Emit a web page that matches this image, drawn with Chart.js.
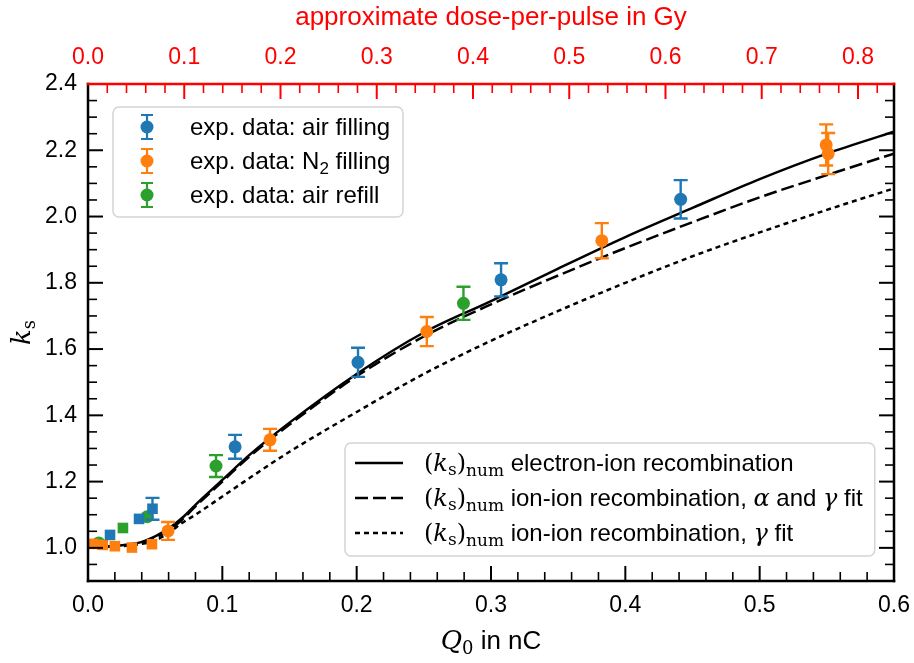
<!DOCTYPE html>
<html>
  <head>
    <meta charset="utf-8"/>
    <style type="text/css">
      body {
        margin: 0px;
        padding: 0px;
        background: #ffffff;
      }
      #container {
        width: 914px;
        height: 663px;
      }
    </style>
  </head>
  <body>
    <div id="container"><canvas id="chart" width="914" height="663"></canvas></div>
  </body>
  <script src="https://cdn.jsdelivr.net/npm/chart.js@4.4.1/dist/chart.umd.min.js"></script>
  <script>
    // measured points (Q0 in nC, k_s, error)
    var airQ   = [0.0164, 0.038, 0.048, 0.1095, 0.201, 0.3075, 0.4412];
    var airK   = [1.039, 1.0875, 1.118, 1.305, 1.560, 1.809, 2.052];
    var airErr = [0, 0, 0.033, 0.036, 0.044, 0.050, 0.058];

    var n2Q   = [0.0037, 0.011, 0.020, 0.0327, 0.0476, 0.0596, 0.1355, 0.2522, 0.3825, 0.5495, 0.551];
    var n2K   = [1.012, 1.009, 1.005, 1.001, 1.011, 1.051, 1.326, 1.653, 1.927, 2.216, 2.190];
    var n2Err = [0, 0, 0, 0, 0, 0.027, 0.033, 0.044, 0.053, 0.062, 0.062];

    var refillQ   = [0.008, 0.026, 0.044, 0.0953, 0.2795];
    var refillK   = [1.015, 1.060, 1.094, 1.247, 1.738];
    var refillErr = [0, 0, 0, 0.033, 0.050];

    // numerical curves
    var curveQ = [0, 0.01, 0.02, 0.03, 0.04, 0.05, 0.06, 0.07, 0.08, 0.10, 0.12, 0.15, 0.20, 0.25, 0.30, 0.35, 0.40, 0.45, 0.50, 0.55, 0.60];
    var electronIon      = [1.005, 1.005, 1.006, 1.010, 1.018, 1.035, 1.058, 1.090, 1.130, 1.205, 1.280, 1.378, 1.525, 1.650, 1.745, 1.843, 1.938, 2.026, 2.113, 2.190, 2.256];
    var ionIonAlphaGamma = [1.003, 1.003, 1.004, 1.008, 1.015, 1.030, 1.052, 1.085, 1.125, 1.200, 1.275, 1.372, 1.518, 1.638, 1.735, 1.822, 1.905, 1.983, 2.058, 2.125, 2.190];
    var ionIonGamma      = [1.003, 1.003, 1.004, 1.007, 1.012, 1.022, 1.045, 1.075, 1.100, 1.155, 1.210, 1.290, 1.410, 1.525, 1.625, 1.715, 1.800, 1.880, 1.952, 2.020, 2.085];

    // axes
    var qTicks    = [0.0, 0.1, 0.2, 0.3, 0.4, 0.5, 0.6];
    var kTicks    = [1.0, 1.2, 1.4, 1.6, 1.8, 2.0, 2.2, 2.4];
    var doseTicks = [0.0, 0.1, 0.2, 0.3, 0.4, 0.5, 0.6, 0.7, 0.8];
    var gyPerNc = 1.3957;

    var SANS = '"Liberation Sans", Arial, sans-serif';
    var SERIF = '"DejaVu Serif", "Liberation Serif", serif';
    var BLUE = '#1f77b4', ORANGE = '#ff7f0e', GREEN = '#2ca02c', RED = '#ff0000';

    function points(qs, ks) {
      return qs.map(function(q, i) { return {x: q, y: ks[i]}; });
    }

    function runsWidth(ctx, runs) {
      var w = 0;
      runs.forEach(function(r) { ctx.font = r.f; w += ctx.measureText(r.t).width; });
      return w;
    }
    function drawRuns(ctx, runs, x, y) {
      runs.forEach(function(r) {
        ctx.font = r.f;
        ctx.fillText(r.t, x, y + (r.dy || 0));
        x += ctx.measureText(r.t).width;
      });
      return x;
    }

    var big = '24px ' + SANS;
    var mBig = '24px ' + SERIF, mIt = 'italic 24px ' + SERIF, mSub = '17px ' + SERIF;
    var ksNum = [
      {t: '(', f: mBig}, {t: 'k', f: mIt}, {t: 's', f: mSub, dy: 4}, {t: ')', f: mBig},
      {t: 'num', f: mSub, dy: 5}
    ];
    var expLegend = [
      {color: BLUE,   runs: [{t: 'exp. data: air filling', f: big}]},
      {color: ORANGE, runs: [{t: 'exp. data: N', f: big}, {t: '2', f: '17px ' + SANS, dy: 5}, {t: ' filling', f: big}]},
      {color: GREEN,  runs: [{t: 'exp. data: air refill', f: big}]}
    ];
    var numLegend = [
      {dash: [], runs: ksNum.concat([{t: ' electron-ion recombination', f: big}])},
      {dash: [13, 5], runs: ksNum.concat([{t: ' ion-ion recombination, ', f: big}, {t: 'α', f: mIt}, {t: ' and ', f: big}, {t: 'γ', f: mIt}, {t: ' fit', f: big}])},
      {dash: [5, 4], runs: ksNum.concat([{t: ' ion-ion recombination, ', f: big}, {t: 'γ', f: mIt}, {t: ' fit', f: big}])}
    ];

    function errMarker(ctx, x, y, color) {
      ctx.strokeStyle = color;
      ctx.lineWidth = 2.2;
      ctx.beginPath();
      ctx.moveTo(x, y - 12); ctx.lineTo(x, y + 12);
      ctx.moveTo(x - 6, y - 12); ctx.lineTo(x + 6, y - 12);
      ctx.moveTo(x - 6, y + 12); ctx.lineTo(x + 6, y + 12);
      ctx.stroke();
      ctx.fillStyle = color;
      ctx.beginPath();
      ctx.arc(x, y, 6.5, 0, Math.PI * 2);
      ctx.fill();
    }

    function roundBox(ctx, x, y, w, h) {
      ctx.beginPath();
      ctx.roundRect(x, y, w, h, 6);
      ctx.fillStyle = 'rgba(255,255,255,0.85)';
      ctx.fill();
      ctx.strokeStyle = '#d4d4d4';
      ctx.lineWidth = 1.5;
      ctx.stroke();
    }

    var frame = {
      id: 'frame',
      beforeDatasetDraw: function(chart, args) {
        var ds = chart.data.datasets[args.index];
        if (!ds.errors) return;
        var ctx = chart.ctx, xs = chart.scales.x, ys = chart.scales.y;
        ctx.save();
        ctx.strokeStyle = ds.backgroundColor;
        ctx.lineWidth = 2.4;
        ds.data.forEach(function(p, i) {
          var e = ds.errors[i];
          if (!e) return;
          var px = xs.getPixelForValue(p.x);
          var top = ys.getPixelForValue(p.y + e), bot = ys.getPixelForValue(p.y - e);
          ctx.beginPath();
          ctx.moveTo(px, top); ctx.lineTo(px, bot);
          ctx.moveTo(px - 7, top); ctx.lineTo(px + 7, top);
          ctx.moveTo(px - 7, bot); ctx.lineTo(px + 7, bot);
          ctx.stroke();
        });
        ctx.restore();
      },
      afterDraw: function(chart) {
        var ctx = chart.ctx, a = chart.chartArea;
        var xs = chart.scales.x, xt = chart.scales.x2, ys = chart.scales.y;
        ctx.save();
        ctx.lineCap = 'butt';

        function seg(x1, y1, x2, y2, w, c) {
          ctx.strokeStyle = c; ctx.lineWidth = w;
          ctx.beginPath(); ctx.moveTo(x1, y1); ctx.lineTo(x2, y2); ctx.stroke();
        }
        var i, v, p, major;
        // bottom ticks, minor every 0.02
        for (i = 0; i <= 30; i++) {
          major = i % 5 === 0;
          p = xs.getPixelForValue(i * 0.02);
          seg(p, a.bottom, p, a.bottom - (major ? 15 : 9), major ? 2 : 1.6, '#000');
        }
        // top ticks in Gy
        for (i = 0; i * 0.02 <= xt.max; i++) {
          major = i % 5 === 0;
          p = xt.getPixelForValue(i * 0.02);
          seg(p, a.top, p, a.top + (major ? 15 : 9), major ? 2 : 1.6, RED);
        }
        // left and right ticks, minor every 0.05
        for (i = 0; i <= 30; i++) {
          v = 0.9 + i * 0.05;
          major = (i - 2) % 4 === 0;
          p = ys.getPixelForValue(v);
          seg(a.left, p, a.left + (major ? 15 : 9), p, major ? 2 : 1.6, '#000');
          seg(a.right, p, a.right - (major ? 15 : 9), p, major ? 2 : 1.6, '#000');
        }
        // spines
        seg(a.left, a.top - 1.25, a.left, a.bottom + 1.25, 2.5, '#000');
        seg(a.right, a.top - 1.25, a.right, a.bottom + 1.25, 2.5, '#000');
        seg(a.left - 1.25, a.bottom, a.right + 1.25, a.bottom, 2.5, '#000');
        seg(a.left - 1.25, a.top, a.right + 1.25, a.top, 2.5, RED);

        // axis titles with math parts
        ctx.fillStyle = '#000';
        ctx.textBaseline = 'alphabetic';
        var xTitle = [{t: 'Q', f: 'italic 26px ' + SERIF}, {t: '0', f: '18px ' + SERIF, dy: 5}, {t: ' in nC', f: '26px ' + SANS}];
        var w = runsWidth(ctx, xTitle);
        drawRuns(ctx, xTitle, (a.left + a.right) / 2 - w / 2, 649);
        var yTitle = [{t: 'k', f: 'italic 26px ' + SERIF}, {t: 's', f: '18px ' + SERIF, dy: 5}];
        w = runsWidth(ctx, yTitle);
        ctx.save();
        ctx.translate(30, (a.top + a.bottom) / 2);
        ctx.rotate(-Math.PI / 2);
        drawRuns(ctx, yTitle, -w / 2, 0);
        ctx.restore();

        // legend: experimental data
        roundBox(ctx, 113, 107, 290, 110);
        expLegend.forEach(function(item, k) {
          var y = 127 + k * 34;
          errMarker(ctx, 147, y, item.color);
          ctx.fillStyle = '#000';
          drawRuns(ctx, item.runs, 190, y + 8);
        });

        // legend: numerical curves
        var maxW = 0;
        numLegend.forEach(function(item) { maxW = Math.max(maxW, runsWidth(ctx, item.runs)); });
        var bx = 345, bw = Math.max(525, 79 + maxW + 12);
        roundBox(ctx, bx, 443, bw, 113);
        numLegend.forEach(function(item, k) {
          var y = 463 + k * 35;
          ctx.setLineDash(item.dash);
          seg(bx + 10, y, bx + 58, y, 2.5, '#000');
          ctx.setLineDash([]);
          ctx.fillStyle = '#000';
          drawRuns(ctx, item.runs, bx + 79, y + 8);
        });
        ctx.restore();
      }
    };

    function lineSet(label, values, dash) {
      return {
        label: label,
        data: points(curveQ, values),
        showLine: true,
        borderColor: '#000000',
        borderWidth: 2.5,
        borderDash: dash,
        pointRadius: 0,
        cubicInterpolationMode: 'monotone',
        order: 3
      };
    }
    function expSet(label, qs, ks, errs, color, squareTest) {
      return {
        label: label,
        data: points(qs, ks),
        errors: errs,
        backgroundColor: color,
        borderColor: color,
        borderWidth: 0,
        pointStyle: function(c) { return c.raw && squareTest(c.raw.x) ? 'rect' : 'circle'; },
        pointRadius: function(c) { return c.raw && squareTest(c.raw.x) ? 7.5 : 6.5; },
        order: 1
      };
    }

    var tickFont = {family: SANS, size: 23};
    var fmt = function(v) { return v.toFixed(1); };
    var noEdgePadding = function(s) { s.paddingLeft = 0; s.paddingRight = 0; };

    var chart = new Chart(document.getElementById('chart'), {
      type: 'scatter',
      data: {
        datasets: [
          lineSet('electron-ion recombination', electronIon, []),
          lineSet('ion-ion recombination, alpha and gamma fit', ionIonAlphaGamma, [13, 5]),
          lineSet('ion-ion recombination, gamma fit', ionIonGamma, [5, 4]),
          expSet('exp. data: air filling', airQ, airK, airErr, BLUE, function(q) { return q < 0.05; }),
          expSet('exp. data: N2 filling', n2Q, n2K, n2Err, ORANGE, function(q) { return q < 0.05; }),
          expSet('exp. data: air refill', refillQ, refillK, refillErr, GREEN, function(q) { return q > 0.02 && q < 0.03; })
        ]
      },
      options: {
        responsive: false,
        animation: false,
        layout: {padding: {right: 20}},
        plugins: {legend: {display: false}, tooltip: {enabled: false}},
        scales: {
          x: {
            type: 'linear', position: 'bottom', min: 0, max: 0.6,
            afterBuildTicks: function(s) { s.ticks = qTicks.map(function(v) { return {value: v}; }); },
            afterFit: function(s) { s.height = 82; noEdgePadding(s); },
            grid: {display: false, drawTicks: false},
            border: {display: false},
            ticks: {padding: 11, color: '#000', font: tickFont, callback: fmt, autoSkip: false, maxRotation: 0}
          },
          x2: {
            type: 'linear', position: 'top', min: 0, max: 0.6 * gyPerNc,
            afterBuildTicks: function(s) { s.ticks = doseTicks.map(function(v) { return {value: v}; }); },
            afterFit: function(s) { s.height = 84; noEdgePadding(s); },
            grid: {display: false, drawTicks: false},
            border: {display: false},
            title: {display: true, text: 'approximate dose-per-pulse in Gy', color: RED, font: {family: SANS, size: 26}, padding: {top: 2, bottom: 0}},
            ticks: {padding: 13, color: RED, font: tickFont, callback: fmt, autoSkip: false, maxRotation: 0}
          },
          y: {
            type: 'linear', position: 'left', min: 0.9, max: 2.4,
            afterBuildTicks: function(s) { s.ticks = kTicks.map(function(v) { return {value: v}; }); },
            afterFit: function(s) { s.width = 88; },
            grid: {display: false, drawTicks: false},
            border: {display: false},
            ticks: {padding: 11, color: '#000', font: tickFont, callback: fmt}
          }
        }
      },
      plugins: [frame]
    });
  </script>
</html>
